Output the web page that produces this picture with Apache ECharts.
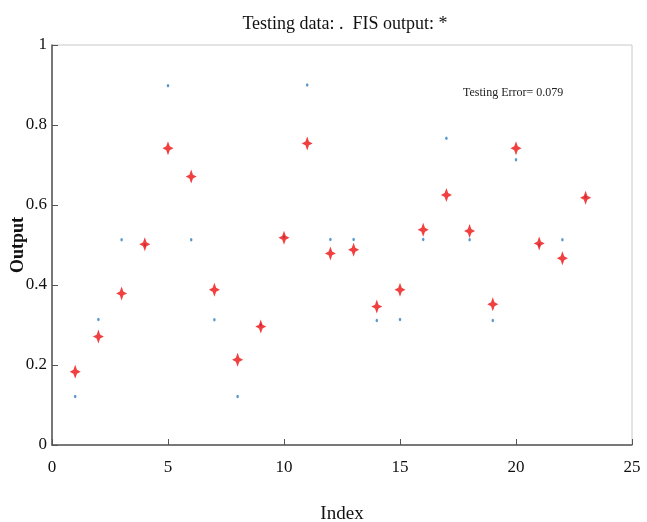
<!DOCTYPE html>
<html>
<head>
<meta charset="utf-8">
<script src="https://cdn.jsdelivr.net/npm/echarts@6/dist/echarts.min.js"></script>
<style>
  html, body { margin: 0; padding: 0; background: #fff; }
  #main { width: 647px; height: 522px; }
</style>
</head>
<body>
<div id="main"></div>
<script>
// index of each test sample
var indexes = [1, 2, 3, 4, 5, 6, 7, 8, 9, 10, 11, 12, 13, 14, 15, 16, 17, 18, 19, 20, 21, 22, 23];
// testing data (blue dots)
var testingData = [0.121, 0.314, 0.513, 0.50, 0.898, 0.513, 0.313, 0.121, 0.30, 0.52, 0.90, 0.514, 0.514,
                   0.311, 0.314, 0.514, 0.767, 0.513, 0.311, 0.713, 0.50, 0.513, 0.62];
// FIS output (red stars)
var fisOutput = [0.183, 0.271, 0.379, 0.502, 0.742, 0.671, 0.388, 0.213, 0.296, 0.518, 0.754, 0.479, 0.488,
                 0.346, 0.388, 0.538, 0.625, 0.535, 0.352, 0.742, 0.504, 0.467, 0.618];
var xTicks = [0, 5, 10, 15, 20, 25];
var yTicks = [0, 0.2, 0.4, 0.6, 0.8, 1];

var serif = '"Liberation Serif", "DejaVu Serif", serif';
var starPath = 'path://M5,0 L6.6,3.6 L10,5 L6.6,6.4 L5,10 L3.4,6.4 L0,5 L3.4,3.6 Z';

var chart = echarts.init(document.getElementById('main'));
var option = {
  backgroundColor: '#fff',
  animation: false,
  title: {
    text: 'Testing data: .  FIS output: *',
    left: 340,
    textAlign: 'center',
    top: 10,
    textStyle: { fontFamily: serif, fontWeight: 'normal', fontSize: 18, color: '#111' }
  },
  grid: {
    left: 52, right: 15, top: 45, bottom: 77,
    containLabel: false, outerBoundsMode: 'none',
    show: true, borderColor: '#c8c8c8', borderWidth: 1
  },
  xAxis: {
    type: 'value',
    min: 0, max: 25, interval: 5,
    name: 'Index',
    nameLocation: 'middle',
    nameGap: 60,
    nameMoveOverlap: false,
    nameTextStyle: { fontFamily: serif, fontSize: 19, color: '#111' },
    axisLine: { lineStyle: { color: '#555', width: 1.5 } },
    axisTick: { inside: true, length: 6, lineStyle: { color: '#555' } },
    axisLabel: {
      fontFamily: serif, fontSize: 17, color: '#111', margin: 14,
      formatter: function (v) { return xTicks.indexOf(v) >= 0 ? String(v) : ''; }
    },
    splitLine: { show: false }
  },
  yAxis: {
    type: 'value',
    min: 0, max: 1, interval: 0.2,
    name: 'Output',
    nameLocation: 'middle',
    nameGap: 25,
    nameMoveOverlap: false,
    nameTextStyle: { fontFamily: serif, fontSize: 18, fontWeight: 'bold', color: '#111' },
    axisLine: { lineStyle: { color: '#555', width: 1.5 } },
    axisTick: { inside: true, length: 6, lineStyle: { color: '#555' } },
    axisLabel: {
      fontFamily: serif, fontSize: 17, color: '#111', margin: 5,
      formatter: function (v) {
        var r = Math.round(v * 10) / 10;
        return yTicks.indexOf(r) >= 0 ? String(r) : '';
      }
    },
    splitLine: { show: false }
  },
  graphic: [{
    type: 'text',
    left: 463, top: 87,
    style: { text: 'Testing Error= 0.079', fontFamily: serif, fontSize: 12, fill: '#222' }
  }],
  series: [
    {
      name: 'Testing data',
      type: 'scatter',
      symbol: 'circle',
      symbolSize: [2.5, 3.5],
      itemStyle: { color: '#2f7fc1' },
      data: indexes.map(function (x, i) { return [x, testingData[i]]; }),
      z: 2
    },
    {
      name: 'FIS output',
      type: 'scatter',
      symbol: starPath,
      symbolSize: [11, 14],
      itemStyle: { color: '#ee1010' },
      data: indexes.map(function (x, i) { return [x, fisOutput[i]]; }),
      z: 3
    }
  ]
};
chart.setOption(option);
</script>
</body>
</html>
